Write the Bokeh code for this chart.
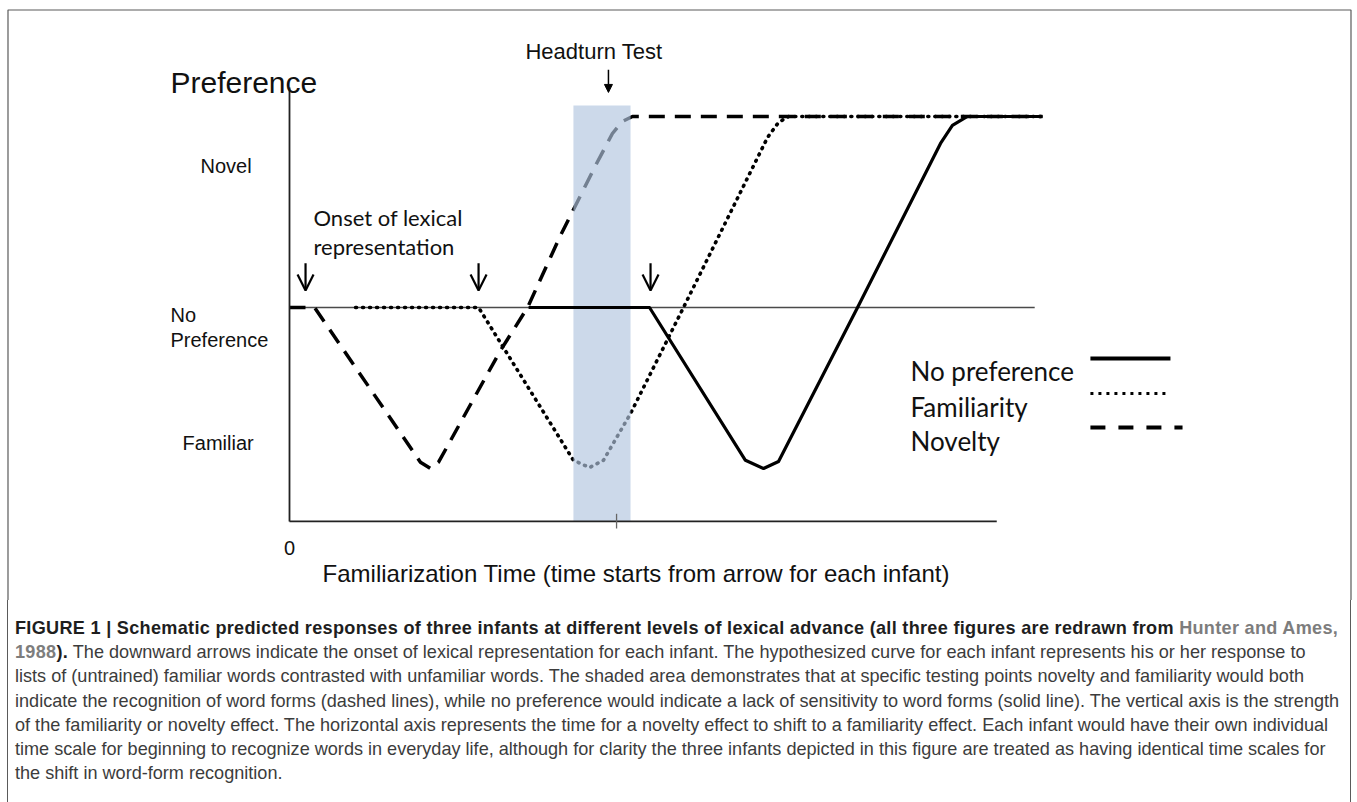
from bokeh.plotting import figure
from bokeh.models import Range1d, Arrow, OpenHead, NormalHead, Div
from bokeh.layouts import column
from bokeh.core.properties import value
from bokeh.embed import file_html
from bokeh.resources import INLINE

# ---------------- data (time units from the y axis; preference: 0 = none, 1 = novel) ----
novelty_t = [0.0, 1.45, 7.59, 8.17, 8.64, 12.23, 13.80, 15.71, 17.74, 18.72, 19.30, 19.88, 43.65]
novelty_p = [0.0, 0.0, -0.81, -0.843, -0.81, -0.225, 0.0, 0.377, 0.743, 0.911, 0.974, 1.0, 1.0]

familiarity_t = [3.83, 10.96, 16.46, 17.39, 18.20, 19.77, 22.84, 27.71, 28.35, 28.93, 43.65]
familiarity_p = [0.0, 0.0, -0.80, -0.838, -0.80, -0.555, 0.0, 0.89, 0.969, 1.0, 1.0]

nopref_t = [13.86, 20.87, 26.43, 27.48, 28.35, 32.93, 37.74, 38.43, 39.30, 43.65]
nopref_p = [0.0, 0.0, -0.80, -0.843, -0.806, 0.0, 0.859, 0.953, 1.0, 1.0]

onset_times = [0.93, 10.96, 20.93]          # onset of lexical representation (arrows)
band_times = [16.46, 19.77]                 # shaded headturn-test window
band_top = 1.058
headturn_tick = 18.96
headturn_arrow = 18.49

axis_x_end = 41.0
axis_y_min = -1.12
axis_y_max = 1.152
ref_line_end = 43.2

y_level_labels = ["Novel", "No", "Preference", "Familiar"]
legend_labels = ["No preference", "Familiarity", "Novelty"]
x_label = "Familiarization Time (time starts from arrow for each infant)"

# ---------------- figure ----------------
W, H = 1357, 600
p = figure(width=W, height=H, output_backend="svg", toolbar_location=None,
           x_axis_location=None, y_axis_location=None, min_border=0,
           x_range=Range1d(-16.7536, 61.913), y_range=Range1d(-1.5340, 1.6073))
p.grid.visible = False
p.outline_line_color = None
p.background_fill_color = "white"
p.border_fill_color = "white"

# page frame (left, top, right edges of the figure box)
fl, fr, ft, fb = -16.319, 61.536, 1.5576, -1.7
p.line([fl, fl, fr, fr], [fb, ft, ft, fb], line_color="#5a5a5a", line_width=1.2)

# reference "no preference" line
p.line([0, ref_line_end], [0, 0], line_color="#4a4a4a", line_width=1.3)

# novelty (dashed) and familiarity (dotted)
p.line(novelty_t, novelty_p, line_color="black", line_width=3.5, line_dash="16 10")
p.line(familiarity_t, familiarity_p, line_color="black", line_width=3.6,
       line_dash="1 6", line_cap="round")

# shaded band (drawn over dashed/dotted curves)
p.quad(left=[band_times[0]], right=[band_times[1]], bottom=[axis_y_min], top=[band_top],
       fill_color="#b0c4de", fill_alpha=0.65, line_color=None)

# no preference (solid)
p.line(nopref_t, nopref_p, line_color="black", line_width=3.2, line_join="round")

# axes
p.line([0, 0], [axis_y_min, axis_y_max], line_color="#222222", line_width=1.8)
p.line([0, axis_x_end], [axis_y_min, axis_y_min], line_color="#222222", line_width=1.8)
p.line([headturn_tick, headturn_tick], [axis_y_min + 0.04, axis_y_min - 0.037],
       line_color="#666666", line_width=1.3)

# onset arrows
for t in onset_times:
    p.add_layout(Arrow(end=OpenHead(size=16, line_width=2.2, line_color="black"),
                       x_start=t, y_start=0.232, x_end=t, y_end=0.089,
                       line_width=2.2, line_color="black"))
# headturn arrow
p.add_layout(Arrow(end=NormalHead(size=8, fill_color="black", line_color="black"),
                   x_start=headturn_arrow, y_start=1.245, x_end=headturn_arrow, y_end=1.126,
                   line_width=1.5, line_color="black"))

# texts (Arial-like)
arial = value("Liberation Sans")
p.text(x=[-6.9], y=[1.178], text=["Preference"], text_font=arial, text_font_size="30px",
       text_color="#111111", text_baseline="alphabetic", text_align="left")
p.text(x=[13.68], y=[1.340], text=["Headturn Test"], text_font=arial, text_font_size="22px",
       text_color="#111111", text_baseline="alphabetic", text_align="left")
p.text(x=[-5.16, -6.9, -6.9, -6.2], y=[0.743, -0.038, -0.169, -0.708], text=y_level_labels,
       text_font=arial, text_font_size="20px", text_color="#111111",
       text_baseline="alphabetic", text_align="left")
p.text(x=[0], y=[-1.26], text=["0"], text_font=arial, text_font_size="20px",
       text_color="#111111", text_baseline="alphabetic", text_align="center")
p.text(x=[20.1], y=[-1.394], text=[x_label], text_font=arial, text_font_size="24px",
       text_color="#111111", text_baseline="alphabetic", text_align="center")

# texts (Calibri-like)
lato = value("Lato")
p.text(x=[1.39, 1.39], y=[0.47, 0.319], text=["Onset of lexical", "representation"],
       text_font=lato, text_font_size="22px", text_color="#111111",
       text_baseline="alphabetic", text_align="left")
p.text(x=[36.0, 36.0, 36.0], y=[-0.333, -0.522, -0.70], text=legend_labels,
       text_font=lato, text_font_size="26px", text_color="#111111",
       text_baseline="alphabetic", text_align="left")

# legend samples
lx0 = 46.43
p.line([lx0, 51.07], [-0.267, -0.267], line_color="black", line_width=4)
p.line([lx0, 50.9], [-0.450, -0.450], line_color="black", line_width=3, line_dash="3 5")
p.line([lx0, 51.77], [-0.628, -0.628], line_color="black", line_width=4, line_dash="15 13")

# ---------------- caption ----------------
b = "font-weight:bold;color:#1e1e1e;letter-spacing:0.3px;"
g = "font-weight:bold;color:#7d7d7d;letter-spacing:0.3px;"
caption_lines = [
    f'<span style="{b}">FIGURE 1 | Schematic predicted responses of three infants at different levels of lexical advance (all three figures are redrawn from </span><span style="{g}">Hunter and Ames,</span>',
    f'<span style="{g}">1988</span><span style="{b}">).</span> The downward arrows indicate the onset of lexical representation for each infant. The hypothesized curve for each infant represents his or her response to',
    'lists of (untrained) familiar words contrasted with unfamiliar words. The shaded area demonstrates that at specific testing points novelty and familiarity would both',
    'indicate the recognition of word forms (dashed lines), while no preference would indicate a lack of sensitivity to word forms (solid line). The vertical axis is the strength',
    'of the familiarity or novelty effect. The horizontal axis represents the time for a novelty effect to shift to a familiarity effect. Each infant would have their own individual',
    'time scale for beginning to recognize words in everyday life, although for clarity the three infants depicted in this figure are treated as having identical time scales for',
    'the shift in word-form recognition.',
]
html = ('<div style="margin-left:7px;width:1344px;height:202px;box-sizing:border-box;'
        'border-left:1px solid #5a5a5a;border-right:1px solid #5a5a5a;'
        'padding:16px 0 0 7px;font-family:\'Liberation Sans\',Arial,sans-serif;font-size:18.1px;'
        'line-height:24.2px;color:#3c3c3c;white-space:nowrap;overflow:hidden;">'
        + "<br>".join(caption_lines) + "</div>")
div = Div(text=html, width=W, height=202, margin=0)

layout = column(p, div)

open("out.html", "w").write(file_html(layout, INLINE))
